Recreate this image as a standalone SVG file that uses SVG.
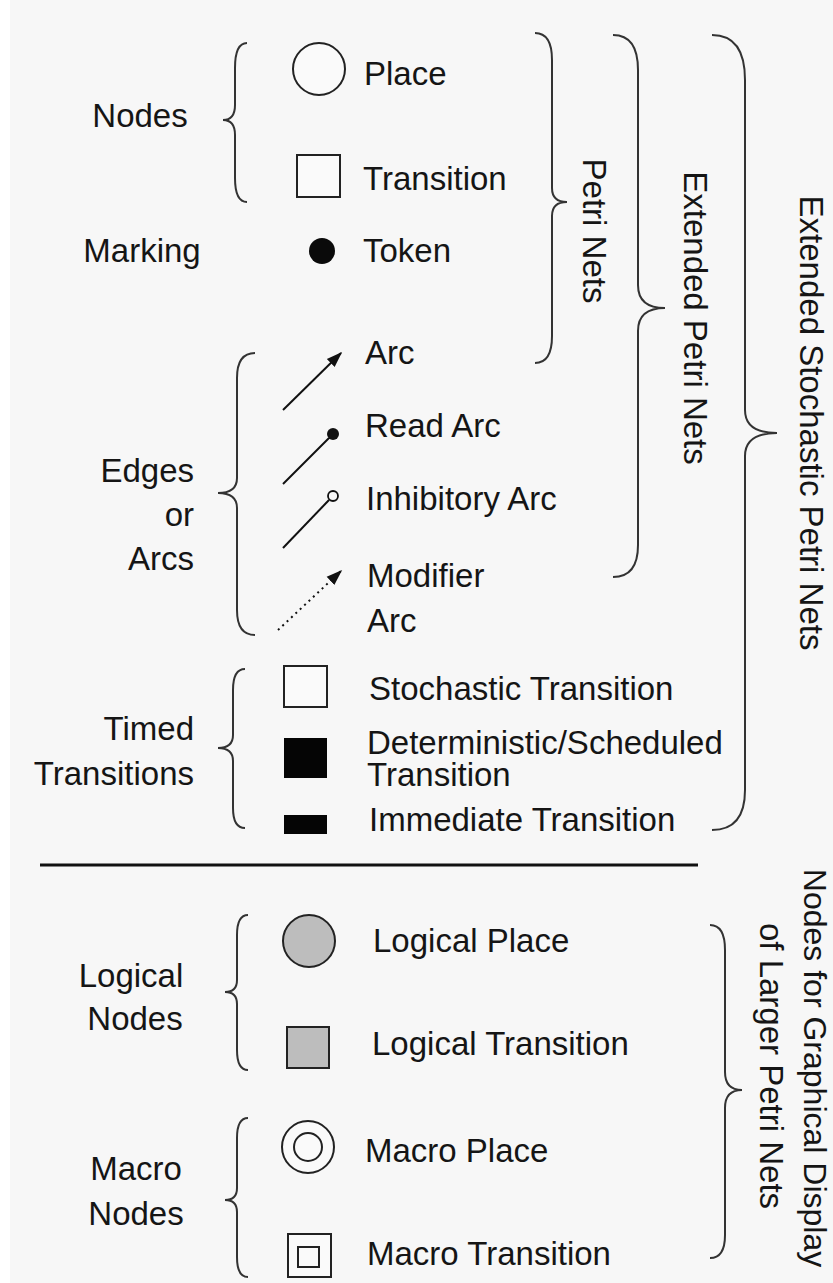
<svg xmlns="http://www.w3.org/2000/svg" width="833" height="1283" viewBox="0 0 833 1283">
<defs>
<style>
text{font-family:"Liberation Sans",Arial,sans-serif;font-size:33px;fill:#151515}
.r{text-anchor:end}
.m{text-anchor:middle}
.br{fill:none;stroke:#333;stroke-width:2}
.sh{stroke:#222;stroke-width:2}
.ln{stroke:#111;stroke-width:2}
</style>
<marker id="ah" viewBox="0 0 10 10" refX="9" refY="5" markerWidth="8" markerHeight="8" markerUnits="strokeWidth" orient="auto">
<path d="M0,1.5 L10,5 L0,8.5 Z" fill="#111"/>
</marker>
</defs>
<rect x="0" y="0" width="833" height="1283" fill="#ffffff"/>
<rect x="10" y="0" width="823" height="1283" fill="#f7f7f7"/>

<g id="braces">
<path class="br" d="M247,43 Q235,43 235,68 L235,105 Q235,120 223,120 Q235,120 235,135 L235,178 Q235,202 247,202"/>
<path class="br" d="M255,353 Q237,353 237,378 L237,478 Q237,493 218,493 Q237,493 237,508 L237,610 Q237,635 255,635"/>
<path class="br" d="M245,669 Q233,669 233,690 L233,735 Q233,748 218,748 Q233,748 233,761 L233,808 Q233,828 245,828"/>
<path class="br" d="M248,915 Q237,915 237,935 L237,980 Q237,992 225,992 Q237,992 237,1004 L237,1050 Q237,1070 248,1070"/>
<path class="br" d="M248,1118 Q237,1118 237,1138 L237,1188 Q237,1200 225,1200 Q237,1200 237,1212 L237,1257 Q237,1277 248,1277"/>
<path class="br" d="M535,33 Q552,33 552,60 L552,188 Q552,202 567,202 Q552,202 552,216 L552,336 Q552,363 535,363"/>
<path class="br" d="M613,35 Q638,35 638,70 L638,285 Q638,308 665,308 Q638,308 638,331 L638,545 Q638,577 613,577"/>
<path class="br" d="M712,35 Q745,35 745,80 L745,410 Q745,433 777,433 Q745,433 745,456 L745,790 Q745,830 712,830"/>
<path class="br" d="M710,925 Q725,925 725,950 L725,1072 Q725,1090 742,1090 Q725,1090 725,1108 L725,1235 Q725,1258 710,1258"/>
</g>

<g id="group-labels">
<text class="m" x="140" y="127">Nodes</text>
<text class="m" x="142" y="262">Marking</text>
<text class="r" x="194" y="482">Edges</text>
<text class="r" x="194" y="526">or</text>
<text class="r" x="194" y="570">Arcs</text>
<text class="r" x="194" y="740">Timed</text>
<text class="r" x="194" y="785">Transitions</text>
<text class="m" x="131" y="987">Logical</text>
<text class="m" x="135" y="1030">Nodes</text>
<text class="m" x="136" y="1180">Macro</text>
<text class="m" x="136" y="1225">Nodes</text>
<text class="m" transform="translate(583,231) rotate(90)">Petri Nets</text>
<text class="m" transform="translate(684,318) rotate(90)">Extended Petri Nets</text>
<text class="m" transform="translate(800,423) rotate(90)">Extended Stochastic Petri Nets</text>
<text class="m" style="font-size:32px" transform="translate(804,1068) rotate(90)">Nodes for Graphical Display</text>
<text class="m" transform="translate(760,1066) rotate(90)">of Larger Petri Nets</text>
</g>

<g id="place">
<circle class="sh" cx="319" cy="69" r="26" fill="#fafafa"/>
<text x="364" y="85">Place</text>
</g>
<g id="transition">
<rect class="sh" x="297" y="155" width="43" height="42" fill="#fafafa"/>
<text x="363" y="190">Transition</text>
</g>
<g id="token">
<circle cx="322" cy="251" r="13" fill="#0a0a0a"/>
<text x="363" y="262">Token</text>
</g>

<g id="connectors">
<line class="ln" x1="283" y1="410" x2="341" y2="353" marker-end="url(#ah)"/>
<line class="ln" x1="283" y1="484" x2="329" y2="438"/>
<circle cx="333" cy="434" r="6" fill="#111"/>
<line class="ln" x1="283" y1="548" x2="329" y2="500"/>
<circle cx="333" cy="496" r="5" fill="#fafafa" stroke="#111" stroke-width="1.8"/>
<line class="ln" x1="278" y1="630" x2="341" y2="571" stroke-dasharray="2,4" marker-end="url(#ah)"/>
</g>
<g id="arc-labels">
<text x="365" y="364">Arc</text>
<text x="365" y="437">Read Arc</text>
<text x="366" y="510">Inhibitory Arc</text>
<text x="367" y="587">Modifier</text>
<text x="367" y="632">Arc</text>
</g>

<g id="stochastic">
<rect class="sh" x="284" y="666" width="43" height="41" fill="#fafafa"/>
<text x="369" y="700">Stochastic Transition</text>
</g>
<g id="deterministic">
<rect x="284" y="738" width="43" height="40" fill="#050505"/>
<text x="367" y="754">Deterministic/Scheduled<tspan x="367" dy="32">Transition</tspan></text>
</g>
<g id="immediate">
<rect x="284" y="815" width="43" height="19" fill="#050505"/>
<text x="369" y="831">Immediate Transition</text>
</g>

<line x1="40" y1="865" x2="698" y2="865" stroke="#111" stroke-width="3"/>

<g id="logical-place">
<circle class="sh" cx="309" cy="941" r="26" fill="#bdbdbd"/>
<text x="373" y="952">Logical Place</text>
</g>
<g id="logical-transition">
<rect class="sh" x="287" y="1027" width="42" height="41" fill="#bdbdbd"/>
<text x="372" y="1055">Logical Transition</text>
</g>
<g id="macro-place">
<circle class="sh" cx="308" cy="1147" r="26" fill="#fafafa"/>
<circle class="sh" cx="308" cy="1147" r="14" fill="#fafafa"/>
<text x="365" y="1162">Macro Place</text>
</g>
<g id="macro-transition">
<rect class="sh" x="288" y="1234" width="43" height="43" fill="#fafafa"/>
<rect class="sh" x="298" y="1247" width="21" height="20" fill="#fafafa"/>
<text x="367" y="1265">Macro Transition</text>
</g>
</svg>
